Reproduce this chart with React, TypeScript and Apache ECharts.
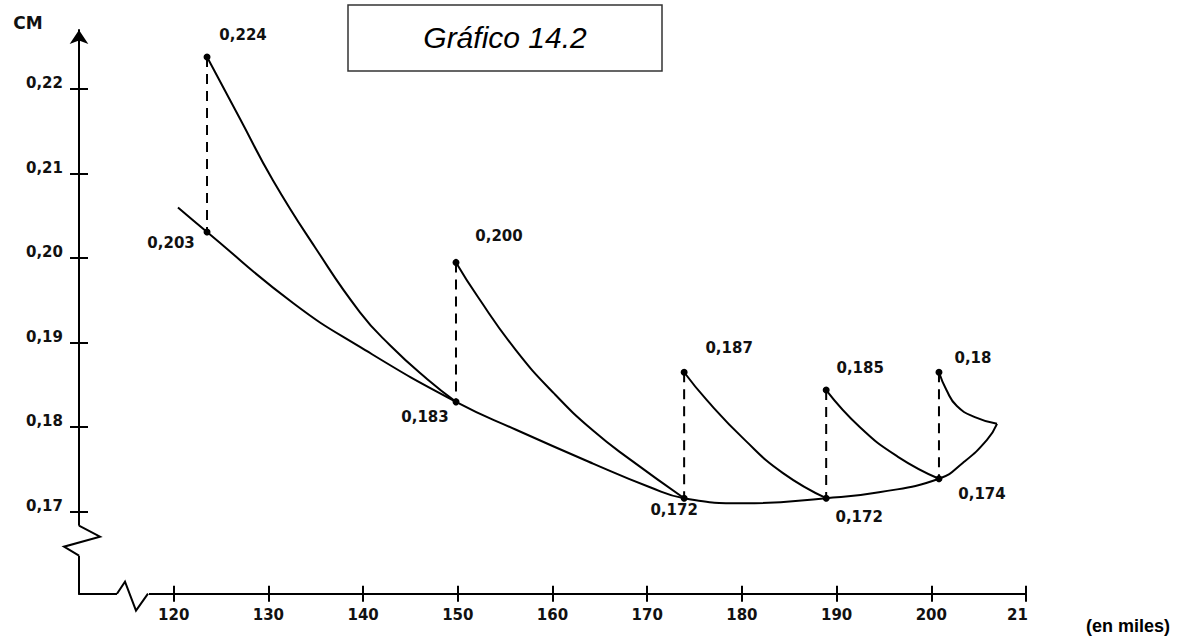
import React, { useEffect, useRef } from "react";
import * as echarts from "echarts";

// Axis ticks and labels
const xTicks = [120, 130, 140, 150, 160, 170, 180, 190, 200, 210];
const xTickLabels = ["120", "130", "140", "150", "160", "170", "180", "190", "200", "21"];
const yTicks = [0.17, 0.18, 0.19, 0.2, 0.21, 0.22];
const yTickLabels = ["0,17", "0,18", "0,19", "0,20", "0,21", "0,22"];

// Long-run envelope curve
const longRunX = [120.45, 123.52, 132.6, 139.67, 149.81, 156.15, 164.28, 170.3, 173.9, 180.33, 188.9, 194.48, 200.81, 203.35, 205.88, 206.94];
const longRunY = [0.206, 0.2031, 0.1947, 0.1895, 0.183, 0.1797, 0.1757, 0.1729, 0.1716, 0.171, 0.1716, 0.1723, 0.1739, 0.1758, 0.1785, 0.1804];

// Short-run curves
const sr1X = [123.52, 127.0, 130.49, 134.92, 139.67, 142.84, 146.75, 149.81];
const sr1Y = [0.2238, 0.2165, 0.2092, 0.2013, 0.1936, 0.1897, 0.1857, 0.183];
const sr2X = [149.81, 152.13, 156.15, 160.16, 164.28, 168.29, 173.9];
const sr2Y = [0.1995, 0.1954, 0.1891, 0.184, 0.1796, 0.1761, 0.1716];
const sr3X = [173.9, 176.3, 180.3, 184.3, 188.9];
const sr3Y = [0.1865, 0.1832, 0.1785, 0.1746, 0.1716];
const sr4X = [188.9, 192.47, 196.48, 200.81];
const sr4Y = [0.1844, 0.18, 0.1765, 0.1739];
const sr5X = [200.81, 201.6, 202.7, 204.6, 206.94];
const sr5Y = [0.1865, 0.1844, 0.1825, 0.1812, 0.1804];

// Marked points (upper = short-run start, lower = tangency on envelope)
const pointX = [123.52, 149.81, 173.9, 188.9, 200.81];
const upperY = [0.2238, 0.1995, 0.1865, 0.1844, 0.1865];
const lowerY = [0.2031, 0.183, 0.1716, 0.1716, 0.1739];
const upperLabels = ["0,224", "0,200", "0,187", "0,185", "0,18"];
const lowerLabels = ["0,203", "0,183", "0,172", "0,172", "0,174"];

const FONT = '"DejaVu Sans", sans-serif';

export default function App() {
  const ref = useRef<HTMLDivElement>(null);

  useEffect(() => {
    const chart = echarts.init(ref.current as HTMLDivElement, null, { renderer: "svg" });

    const pairs = (xs: number[], ys: number[]) => xs.map((x, i) => [x, ys[i]]);
    const curve = (xs: number[], ys: number[]) => ({
      type: "line",
      data: pairs(xs, ys),
      smooth: 0.5,
      showSymbol: false,
      symbol: "none",
      silent: true,
      lineStyle: { color: "#000", width: 2 },
      z: 3,
    });
    const dashed = pointX.map((x, i) => ({
      type: "line",
      data: [
        [x, upperY[i]],
        [x, lowerY[i]],
      ],
      showSymbol: false,
      symbol: "none",
      silent: true,
      lineStyle: { color: "#000", width: 2, type: [10, 7] },
      z: 2,
    }));

    const upperOffsets = [[36, -22], [43, -26], [45, -24], [34, -22], [34, -14]];
    const lowerOffsets = [[-36, 11], [-31, 15], [-10, 12], [33, 19], [43, 15]];

    const pointData = [
      ...pointX.map((x, i) => ({
        name: upperLabels[i],
        value: [x, upperY[i]],
        label: { offset: upperOffsets[i] },
      })),
      ...pointX.map((x, i) => ({
        name: lowerLabels[i],
        value: [x, lowerY[i]],
        label: { offset: lowerOffsets[i] },
      })),
    ];

    const findIdx = (arr: number[], v: number) => arr.findIndex((t) => Math.abs(t - v) < 1e-6);

    const labelStyle = { fontFamily: FONT, fontSize: 15, fontWeight: "bold", color: "#111" };

    const option: any = {
      animation: false,
      backgroundColor: "#fff",
      grid: { left: 79, right: 163, top: 30, bottom: 43.3, containLabel: false },
      xAxis: [
        {
          type: "value",
          min: 110,
          max: 210,
          position: "bottom",
          axisLine: { show: true, onZero: false, lineStyle: { color: "#000", width: 2 } },
          axisTick: { show: true, customValues: xTicks, length: 8, lineStyle: { color: "#000", width: 2 } },
          axisLabel: {
            show: true,
            customValues: xTicks,
            margin: 14,
            ...labelStyle,
            formatter: (v: number) => {
              const i = findIdx(xTicks, v);
              if (i < 0) return "";
              return i === xTicks.length - 1 ? `{cut|${xTickLabels[i]}}` : `{n|${xTickLabels[i]}}`;
            },
            rich: {
              n: { ...labelStyle },
              cut: { ...labelStyle, padding: [0, 17, 0, 0] },
            },
          },
          splitLine: { show: false },
        },
        {
          type: "value",
          min: 110,
          max: 210,
          position: "bottom",
          axisLine: { show: false, onZero: false },
          axisTick: { show: true, inside: true, customValues: xTicks, length: 8, lineStyle: { color: "#000", width: 2 } },
          axisLabel: { show: false },
          splitLine: { show: false },
        },
      ],
      yAxis: [
        {
          type: "value",
          min: 0.1603,
          max: 0.227,
          position: "left",
          axisLine: {
            show: true,
            onZero: false,
            symbol: ["none", "arrow"],
            symbolSize: [14, 14],
            lineStyle: { color: "#000", width: 2 },
          },
          axisTick: { show: true, customValues: yTicks, length: 9, lineStyle: { color: "#000", width: 2 } },
          axisLabel: {
            show: true,
            customValues: yTicks,
            margin: 16,
            align: "right",
            verticalAlign: "bottom",
            lineHeight: 12,
            ...labelStyle,
            formatter: (v: number) => {
              const i = findIdx(yTicks, v);
              return i < 0 ? "" : yTickLabels[i];
            },
          },
          splitLine: { show: false },
        },
        {
          type: "value",
          min: 0.1603,
          max: 0.227,
          position: "left",
          axisLine: { show: false, onZero: false },
          axisTick: { show: true, inside: true, customValues: yTicks, length: 9, lineStyle: { color: "#000", width: 2 } },
          axisLabel: { show: false },
          splitLine: { show: false },
        },
      ],
      series: [
        curve(longRunX, longRunY),
        curve(sr1X, sr1Y),
        curve(sr2X, sr2Y),
        curve(sr3X, sr3Y),
        curve(sr4X, sr4Y),
        curve(sr5X, sr5Y),
        ...dashed,
        {
          type: "scatter",
          data: pointData,
          symbol: "circle",
          symbolSize: 7,
          itemStyle: { color: "#000", opacity: 1 },
          silent: true,
          z: 5,
          label: {
            show: true,
            position: "inside",
            formatter: "{b}",
            align: "center",
            verticalAlign: "middle",
            textBorderWidth: 0,
            textBorderColor: "transparent",
            opacity: 1,
            ...labelStyle,
          },
        },
      ],
    };

    chart.setOption(option);

    const origin = chart.convertToPixel({ gridIndex: 0 }, [110, 0.1603]) as number[];
    const ox = origin[0];
    const oy = origin[1];

    chart.setOption({
      graphic: [
        // Break on the vertical axis
        {
          type: "rect",
          z: 100,
          shape: { x: ox - 4, y: oy - 68, width: 8, height: 30 },
          style: { fill: "#fff", stroke: null },
        },
        {
          type: "polyline",
          z: 101,
          shape: {
            points: [
              [ox, oy - 68],
              [ox + 21, oy - 57],
              [ox - 15, oy - 47],
              [ox, oy - 38],
            ],
          },
          style: { stroke: "#000", lineWidth: 2, fill: null },
        },
        // Break on the horizontal axis
        {
          type: "rect",
          z: 100,
          shape: { x: ox + 38, y: oy - 4, width: 32, height: 8 },
          style: { fill: "#fff", stroke: null },
        },
        {
          type: "polyline",
          z: 101,
          shape: {
            points: [
              [ox + 38, oy],
              [ox + 46, oy - 12],
              [ox + 57, oy + 17],
              [ox + 69, oy],
            ],
          },
          style: { stroke: "#000", lineWidth: 2, fill: null },
        },
        // Title box
        {
          type: "rect",
          z: 100,
          shape: { x: 348, y: 5, width: 314, height: 66 },
          style: { fill: "#fff", stroke: "#333", lineWidth: 1.5 },
        },
        {
          type: "text",
          z: 101,
          x: 505,
          y: 37,
          style: {
            text: "Gráfico 14.2",
            fontFamily: '"Liberation Sans", Arial, sans-serif',
            fontStyle: "italic",
            fontSize: 30,
            fill: "#000",
            align: "center",
            verticalAlign: "middle",
          },
        },
        {
          type: "text",
          z: 101,
          x: 28,
          y: 23,
          style: {
            text: "CM",
            fontFamily: FONT,
            fontWeight: "bold",
            fontSize: 17,
            fill: "#111",
            align: "center",
            verticalAlign: "middle",
          },
        },
        {
          type: "text",
          z: 101,
          x: 1128,
          y: 626,
          style: {
            text: "(en miles)",
            fontFamily: '"Liberation Sans", Arial, sans-serif',
            fontWeight: "bold",
            fontSize: 18,
            fill: "#000",
            align: "center",
            verticalAlign: "middle",
          },
        },
      ],
    });

    return () => {
      chart.dispose();
    };
  }, []);

  return (
    <div
      ref={ref}
      style={{ position: "fixed", left: 0, top: 0, width: 1189, height: 637, background: "#fff" }}
    />
  );
}
